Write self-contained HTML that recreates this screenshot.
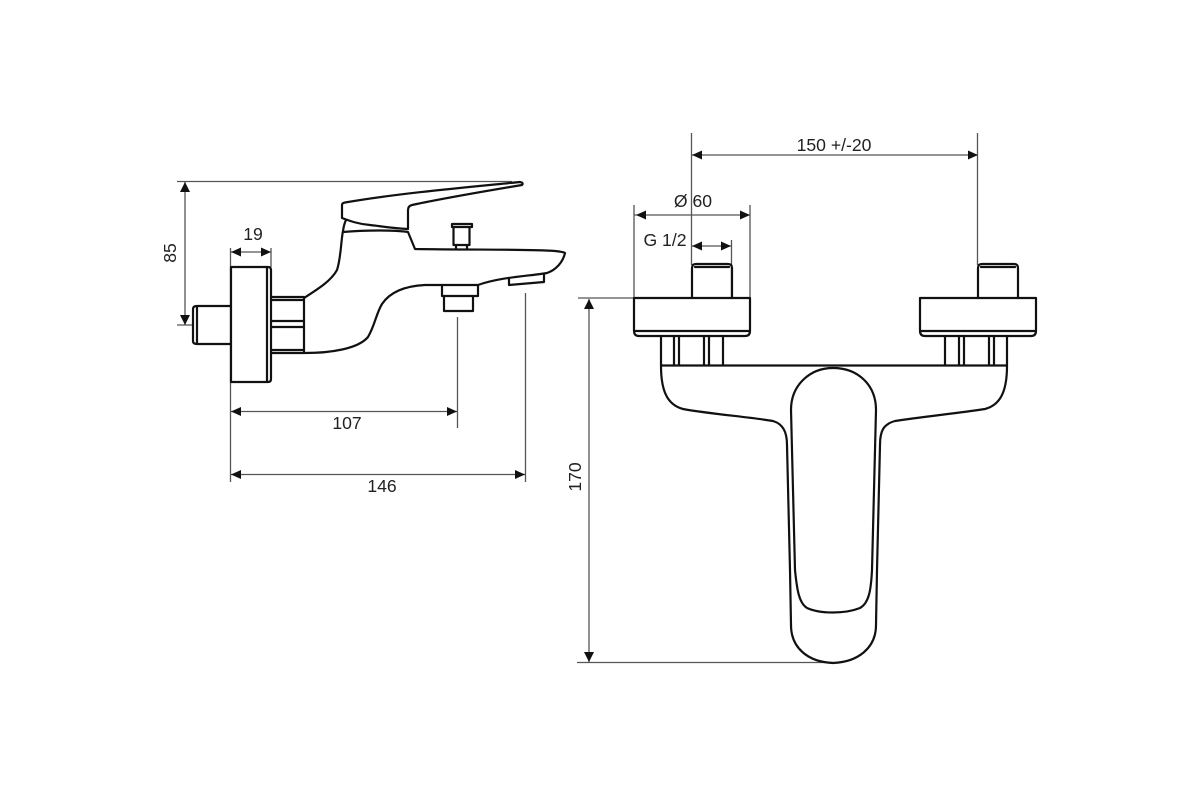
<!DOCTYPE html>
<html><head><meta charset="utf-8"><style>
html,body{margin:0;padding:0;background:#fff;width:1200px;height:800px;overflow:hidden}
svg{display:block}
text{font-family:"Liberation Sans",sans-serif;font-size:17.6px;fill:#222;text-anchor:middle}
.d{stroke:#555;stroke-width:1.3;fill:none}
.o{stroke:#111;stroke-width:2.2;fill:none;stroke-linejoin:round;stroke-linecap:round}
.a{fill:#111;stroke:none}
</style></head><body>
<svg width="1200" height="800" viewBox="0 0 1200 800" xmlns="http://www.w3.org/2000/svg">
<rect width="1200" height="800" fill="#fff"/>
<g style="filter:blur(0.3px)">
<!-- left dimension lines -->
<path class="d" d="M177 181.500H512M185 182V325M177 325H193M230.500 248V482M271 248V267M457.500 317V428M525.500 293V482M231 252H271M231 411.500H457M231 474.500H525"/>
<path class="a" d="M185 182l-5 10h10zM185 325l-5 -10h10zM231 252l10 -4.500v9zM271 252l-10 -4.500v9zM231 411.500l10 -4.500v9zM457 411.500l-10 -4.500v9zM231 474.500l10 -4.500v9zM525 474.500l-10 -4.500v9z"/>
<text x="253" y="240">19</text>
<text x="347" y="429">107</text>
<text x="382" y="492">146</text>
<text transform="translate(176,253) rotate(-90)">85</text>
<!-- left faucet -->
<path class="o" d="M231 267H268Q271 267 271 270V379Q271 382 268 382H231V267ZM267 268V381"/>
<path class="o" d="M231 306H197Q193 306 193 309V341Q193 344 197 344H231M197 307V343"/>
<path class="o" d="M271 297H304V353H271M272 300H304M272 321H304M272 327H304M272 350H304"/>
<path class="o" d="M304 298C318 289 331 281 337 270C341 258 341 240 343 231Q344 224 346 220"/>
<path class="o" d="M345 202.500C400 193 470 187 520 182Q524 183 522 185C480 192 440 199 412 205Q408 206 408 210V229C390 228 380 226 370 225C358 224 350 221 342 218V205Q342 203 345 202.500Z"/>
<path class="o" d="M343 232C365 230 395 230 408 232L415 249C470 250 530 249 555 251Q564 252 565 253C563 262 556 270 547 273C530 276 500 277 478 285H425C405 286 390 292 382 304C376 314 375 325 368 337C358 349 330 353 305 353"/>
<path class="o" d="M509 278V285L544 282V275"/>
<path class="o" d="M442 285V296H478V285M444 296V311H473V296"/>
<path class="o" d="M452 224H472V227H452ZM453.500 227V245H469.500V227M456 245V249M467 245V249"/>
<!-- right dimension lines -->
<path class="d" d="M691.500 133V265M977.500 133V265M634 205V298M750 205V298M731.500 240V298M692 155H978M634 215H750M692 246H731M578 298H635M589 299V662M577 662.500H833"/>
<path class="a" d="M692 155l10 -4.500v9zM978 155l-10 -4.500v9zM636 215l10 -4.500v9zM750 215l-10 -4.500v9zM692 246l10 -4.500v9zM731 246l-10 -4.500v9zM589 299l-5 10h10zM589 662l-5 -10h10z"/>
<text x="834" y="151">150 +/-20</text>
<text x="693" y="207">Ø 60</text>
<text x="665" y="246">G 1/2</text>
<text transform="translate(581,477) rotate(-90)">170</text>
<!-- right faucet -->
<path class="o" d="M634 298H750V331Q750 336 745 336H639Q634 336 634 331ZM635 331H749"/>
<path class="o" d="M692 298V268Q692 264 696 264H728Q732 264 732 268V298M695 267H729"/>
<path class="o" d="M920 298H1036V331Q1036 336 1031 336H925Q920 336 920 331ZM921 331H1035"/>
<path class="o" d="M978 298V268Q978 264 982 264H1014Q1018 264 1018 268V298M981 267H1015"/>
<path class="o" d="M661 336V365M674 336V365M679 336V365M704 336V365M709 336V365M723 336V365M945 336V365M959 336V365M964 336V365M989 336V365M994 336V365M1007 336V365"/>
<path class="o" d="M661 365.500H1007"/>
<path class="o" d="M661 366C661 392 668 405 683 409C710 414 750 417 773 421C783 424 787 432 787 445L790 570L791 625C791 648 808 662 833 663C858 662 876 648 876 625L877 570L880 445C880 430 884 424 895 421C920 417 960 413 985 409C1000 405 1007 392 1007 366"/>
<path class="o" d="M791 410C791 385 810 368 833 368C858 368 876 385 876 410L872 570C871 590 869 603 860 608C845 614 820 614 807 608C799 603 797 590 795 570Z"/>
</g>
</svg>
</body></html>
